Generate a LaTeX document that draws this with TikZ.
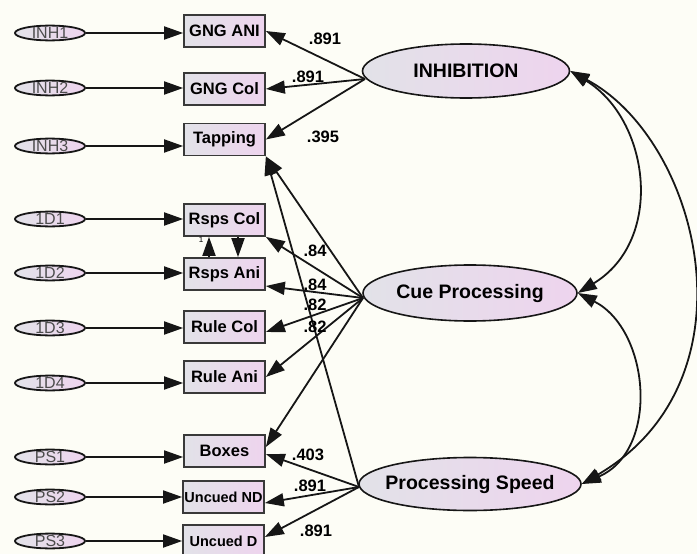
\documentclass[tikz,border=0pt]{standalone}
\usepackage{fontspec}
\setmainfont{Liberation Sans}
\usetikzlibrary{arrows.meta,shapes.geometric,calc}
\definecolor{bg}{RGB}{253,253,246}
\definecolor{fillL}{RGB}{226,226,232}
\definecolor{fillR}{RGB}{238,212,238}
\definecolor{ink}{RGB}{22,22,22}
\newcommand\nowidth[1]{\makebox[0pt]{#1}}

\begin{document}
\begin{tikzpicture}[x=1pt,y=-1pt,
  >={Triangle[length=19pt,width=13pt]},
  conn/.style={draw=ink, line width=1.8pt, ->},
  cov/.style={draw=ink, line width=1.8pt, <->},
  obs/.style={rectangle, draw=ink!85, line width=1.7pt, minimum width=81pt,
    minimum height=32pt, inner sep=0pt, left color=fillL, right color=fillR,
    font=\fontsize{16.5}{17}\selectfont\bfseries},
  err/.style={ellipse, draw=ink, line width=1.8pt, minimum width=70pt,
    minimum height=14pt, inner sep=0pt, text height=10.5pt, text depth=0pt,
    left color=fillL, right color=fillR, text=black!70,
    font=\fontsize{16}{16}\selectfont},
  lat/.style={ellipse, draw=ink, line width=1.6pt, inner sep=0pt,
    left color=fillL, right color=fillR,
    font=\fontsize{19.5}{20}\selectfont\bfseries},
  coef/.style={inner sep=0pt, font=\fontsize{16.5}{17}\selectfont\bfseries},
]
\path[use as bounding box, fill=bg] (0,0) rectangle (697,554);

% observed indicators
\node[obs] (gngani) at (224.5,31)  {GNG ANI};
\node[obs] (gngcol) at (224.5,89)  {GNG Col};
\node[obs] (tap)    at (224.5,139.5) {Tapping};
\node[obs] (rcol)   at (224.5,220) {Rsps Col};
\node[obs] (rani)   at (224.5,274) {Rsps Ani};
\node[obs] (rulec)  at (224.5,327) {Rule Col};
\node[obs] (rulea)  at (224.5,377) {Rule Ani};
\node[obs] (boxes)  at (224.5,451) {Boxes};
\node[obs, font=\fontsize{14.5}{15}\selectfont\bfseries] (und) at (223.5,497) {\nowidth{Uncued ND}};
\node[obs, font=\fontsize{14.5}{15}\selectfont\bfseries] (ud)  at (223.5,541) {\nowidth{Uncued D}};

% error terms
\node[err] (inh1) at (50,33)  {\nowidth{INH1}};
\node[err] (inh2) at (50,88)  {\nowidth{INH2}};
\node[err] (inh3) at (50,146) {\nowidth{INH3}};
\node[err] (d1)   at (50,219) {\nowidth{1D1}};
\node[err] (d2)   at (50,273) {\nowidth{1D2}};
\node[err] (d3)   at (50,328) {\nowidth{1D3}};
\node[err] (d4)   at (50,383) {\nowidth{1D4}};
\node[err] (ps1)  at (50,457) {\nowidth{PS1}};
\node[err] (ps2)  at (50,497) {\nowidth{PS2}};
\node[err] (ps3)  at (50,541) {\nowidth{PS3}};

% latent factors
\node[lat, minimum width=207pt, minimum height=54pt] (inhib) at (466,71)  {\nowidth{INHIBITION}};
\node[lat, minimum width=214pt, minimum height=56pt] (cue)   at (470,293) {\nowidth{Cue Processing}};
\node[lat, minimum width=222pt, minimum height=53pt] (speed) at (470,484) {\nowidth{Processing Speed}};

\coordinate (inhs) at (365,79);
\coordinate (cues) at (363,298);
\coordinate (spds) at (359,487);

% error -> indicator
\foreach \e/\o in {inh1/gngani, inh2/gngcol, inh3/tap, d1/rcol, d2/rani,
                   d3/rulec, d4/rulea, ps1/boxes, ps2/und, ps3/ud}
  \draw[conn] (\e) -- (\e -| \o.west);

% inhibition loadings
\draw[conn] (inhs) -- (gngani.east);
\draw[conn] (inhs) -- (gngcol.east);
\draw[conn] (inhs) -- (tap.east);

% cue processing loadings
\draw[conn] (cues) -- (rcol.south east);
\draw[conn] (cues) -- ($(rani.east)+(0,12)$);
\draw[conn] (cues) -- ($(rulec.east)+(0,5)$);
\draw[conn] (cues) -- (rulea.east);
\draw[conn] (cues) -- ($(boxes.east)+(0,-4)$);
\draw[conn] (cues) -- (tap.south east);

% processing speed loadings
\draw[conn] (spds) -- (tap.south east);
\draw[conn] (spds) -- ($(boxes.east)+(0,3)$);
\draw[conn] (spds) -- ($(und.east)+(0,6)$);
\draw[conn] (spds) -- ($(ud.east)+(0,-4)$);

% residual link between the two response measures
\draw[conn] ($(rani.north)+(-15.5,0)$) -- ($(rcol.south)+(-15.5,0)$);
\draw[conn] ($(rcol.south)+(13.5,0)$) -- ($(rani.north)+(13.5,0)$);
\node[inner sep=0pt, font=\fontsize{8}{8}\selectfont] (one) at (201,240) {1};

% factor covariances
\draw[cov] (inhib.east) .. controls (650,120) and (665,240) .. (cue.east);
\draw[cov] (inhib.east) .. controls (700,140) and (760,380) .. (speed.east);
\draw[cov] (cue.east) .. controls (650,330) and (660,450) .. (speed.east);

% coefficients
\node[coef] (c1)  at (325,39)  {.891};
\node[coef] (c2)  at (308,77)  {.891};
\node[coef] (c3)  at (323,137) {.395};
\node[coef] (c4)  at (315,251) {.84};
\node[coef] (c5)  at (315,285) {.84};
\node[coef] (c6)  at (315,305) {.82};
\node[coef] (c7)  at (315,327) {.82};
\node[coef] (c8)  at (308,455) {.403};
\node[coef] (c9)  at (310,486) {.891};
\node[coef] (c10) at (316,531) {.891};
\end{tikzpicture}
\end{document}
